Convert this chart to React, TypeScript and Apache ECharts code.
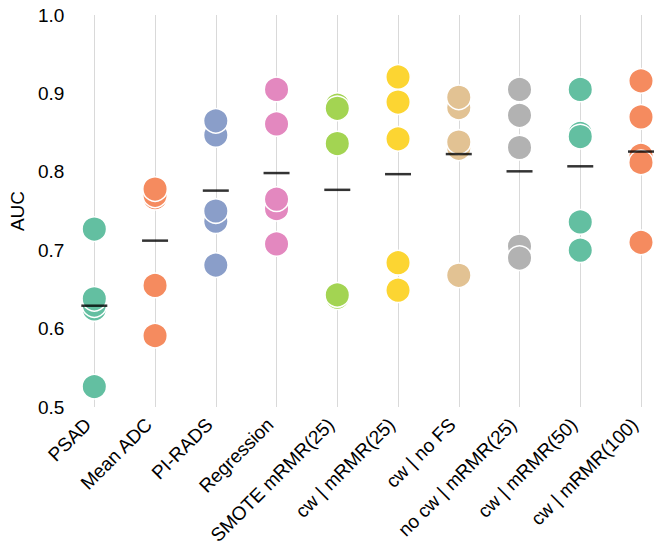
import React, { useEffect, useRef } from "react";
import * as echarts from "echarts";

const categories = [
  "PSAD",
  "Mean ADC",
  "PI-RADS",
  "Regression",
  "SMOTE mRMR(25)",
  "cw | mRMR(25)",
  "cw | no FS",
  "no cw | mRMR(25)",
  "cw | mRMR(50)",
  "cw | mRMR(100)",
];

// AUC values per fold, listed in drawing order
const psad = [0.727, 0.526, 0.625, 0.63, 0.638];
const meanAdc = [0.767, 0.77, 0.778, 0.655, 0.591];
const piRads = [0.847, 0.865, 0.737, 0.75, 0.681];
const regression = [0.905, 0.861, 0.753, 0.765, 0.708];
const smote25 = [0.885, 0.881, 0.836, 0.64, 0.643];
const cw25 = [0.921, 0.889, 0.842, 0.684, 0.649];
const cwNoFs = [0.882, 0.895, 0.83, 0.838, 0.668];
const noCw25 = [0.905, 0.872, 0.831, 0.705, 0.69];
const cw50 = [0.905, 0.849, 0.845, 0.736, 0.7];
const cw100 = [0.916, 0.87, 0.821, 0.812, 0.71];

const allValues = [psad, meanAdc, piRads, regression, smote25, cw25, cwNoFs, noCw25, cw50, cw100];

const colors = [
  "#63bfa1",
  "#f58b5f",
  "#8a9ec9",
  "#e388bf",
  "#a3d452",
  "#fcd532",
  "#e2c293",
  "#b2b2b2",
  "#63bfa1",
  "#f58b5f",
];

const FONT = "'Liberation Sans', Arial, Helvetica, sans-serif";

export default function App() {
  const ref = useRef<HTMLDivElement>(null);
  useEffect(() => {
    if (!ref.current) return;
    const chart = echarts.init(ref.current, undefined, { renderer: "svg" });

    const pointSeries = categories.map((cat, i) => ({
      type: "scatter" as const,
      name: cat,
      symbol: "circle",
      symbolSize: 24.5,
      itemStyle: { color: colors[i], borderColor: "#ffffff", borderWidth: 1.5, opacity: 1 },
      data: allValues[i].map((v) => [cat, v]),
      z: 2,
    }));

    const means = allValues.map((arr, i) => [
      categories[i],
      arr.reduce((a, b) => a + b, 0) / arr.length,
    ]);

    chart.setOption({
      animation: false,
      backgroundColor: "#ffffff",
      grid: { left: 93, right: 13, top: 15, bottom: 141, containLabel: false },
      xAxis: {
        type: "category",
        data: categories,
        boundaryGap: false,
        axisLine: { show: false },
        axisTick: { show: false },
        splitLine: { show: true, lineStyle: { color: "#d9d9d9", width: 1 } },
        axisLabel: {
          rotate: 45,
          interval: 0,
          margin: 8,
          padding: [0, 9, 0, 0],
          fontSize: 19,
          color: "#000000",
          fontFamily: FONT,
        },
      },
      yAxis: {
        type: "value",
        min: 0.5,
        max: 1.0,
        interval: 0.1,
        name: "AUC",
        nameLocation: "middle",
        nameGap: 64,
        nameRotate: 90,
        nameTextStyle: { fontSize: 19, color: "#000000", fontFamily: FONT },
        axisLine: { show: false },
        axisTick: { show: false },
        splitLine: { show: false },
        axisLabel: {
          margin: 30,
          fontSize: 19,
          color: "#000000",
          fontFamily: FONT,
          formatter: (v: number) => v.toFixed(1),
        },
      },
      series: [
        ...pointSeries,
        {
          type: "scatter",
          name: "mean",
          symbol: "rect",
          symbolSize: [26, 2.5],
          itemStyle: { color: "#000000" },
          data: means,
          z: 5,
        },
      ],
    });
    return () => chart.dispose();
  }, []);
  return (
    <div
      ref={ref}
      style={{ position: "fixed", left: 0, top: 0, width: 654, height: 548 }}
    />
  );
}
